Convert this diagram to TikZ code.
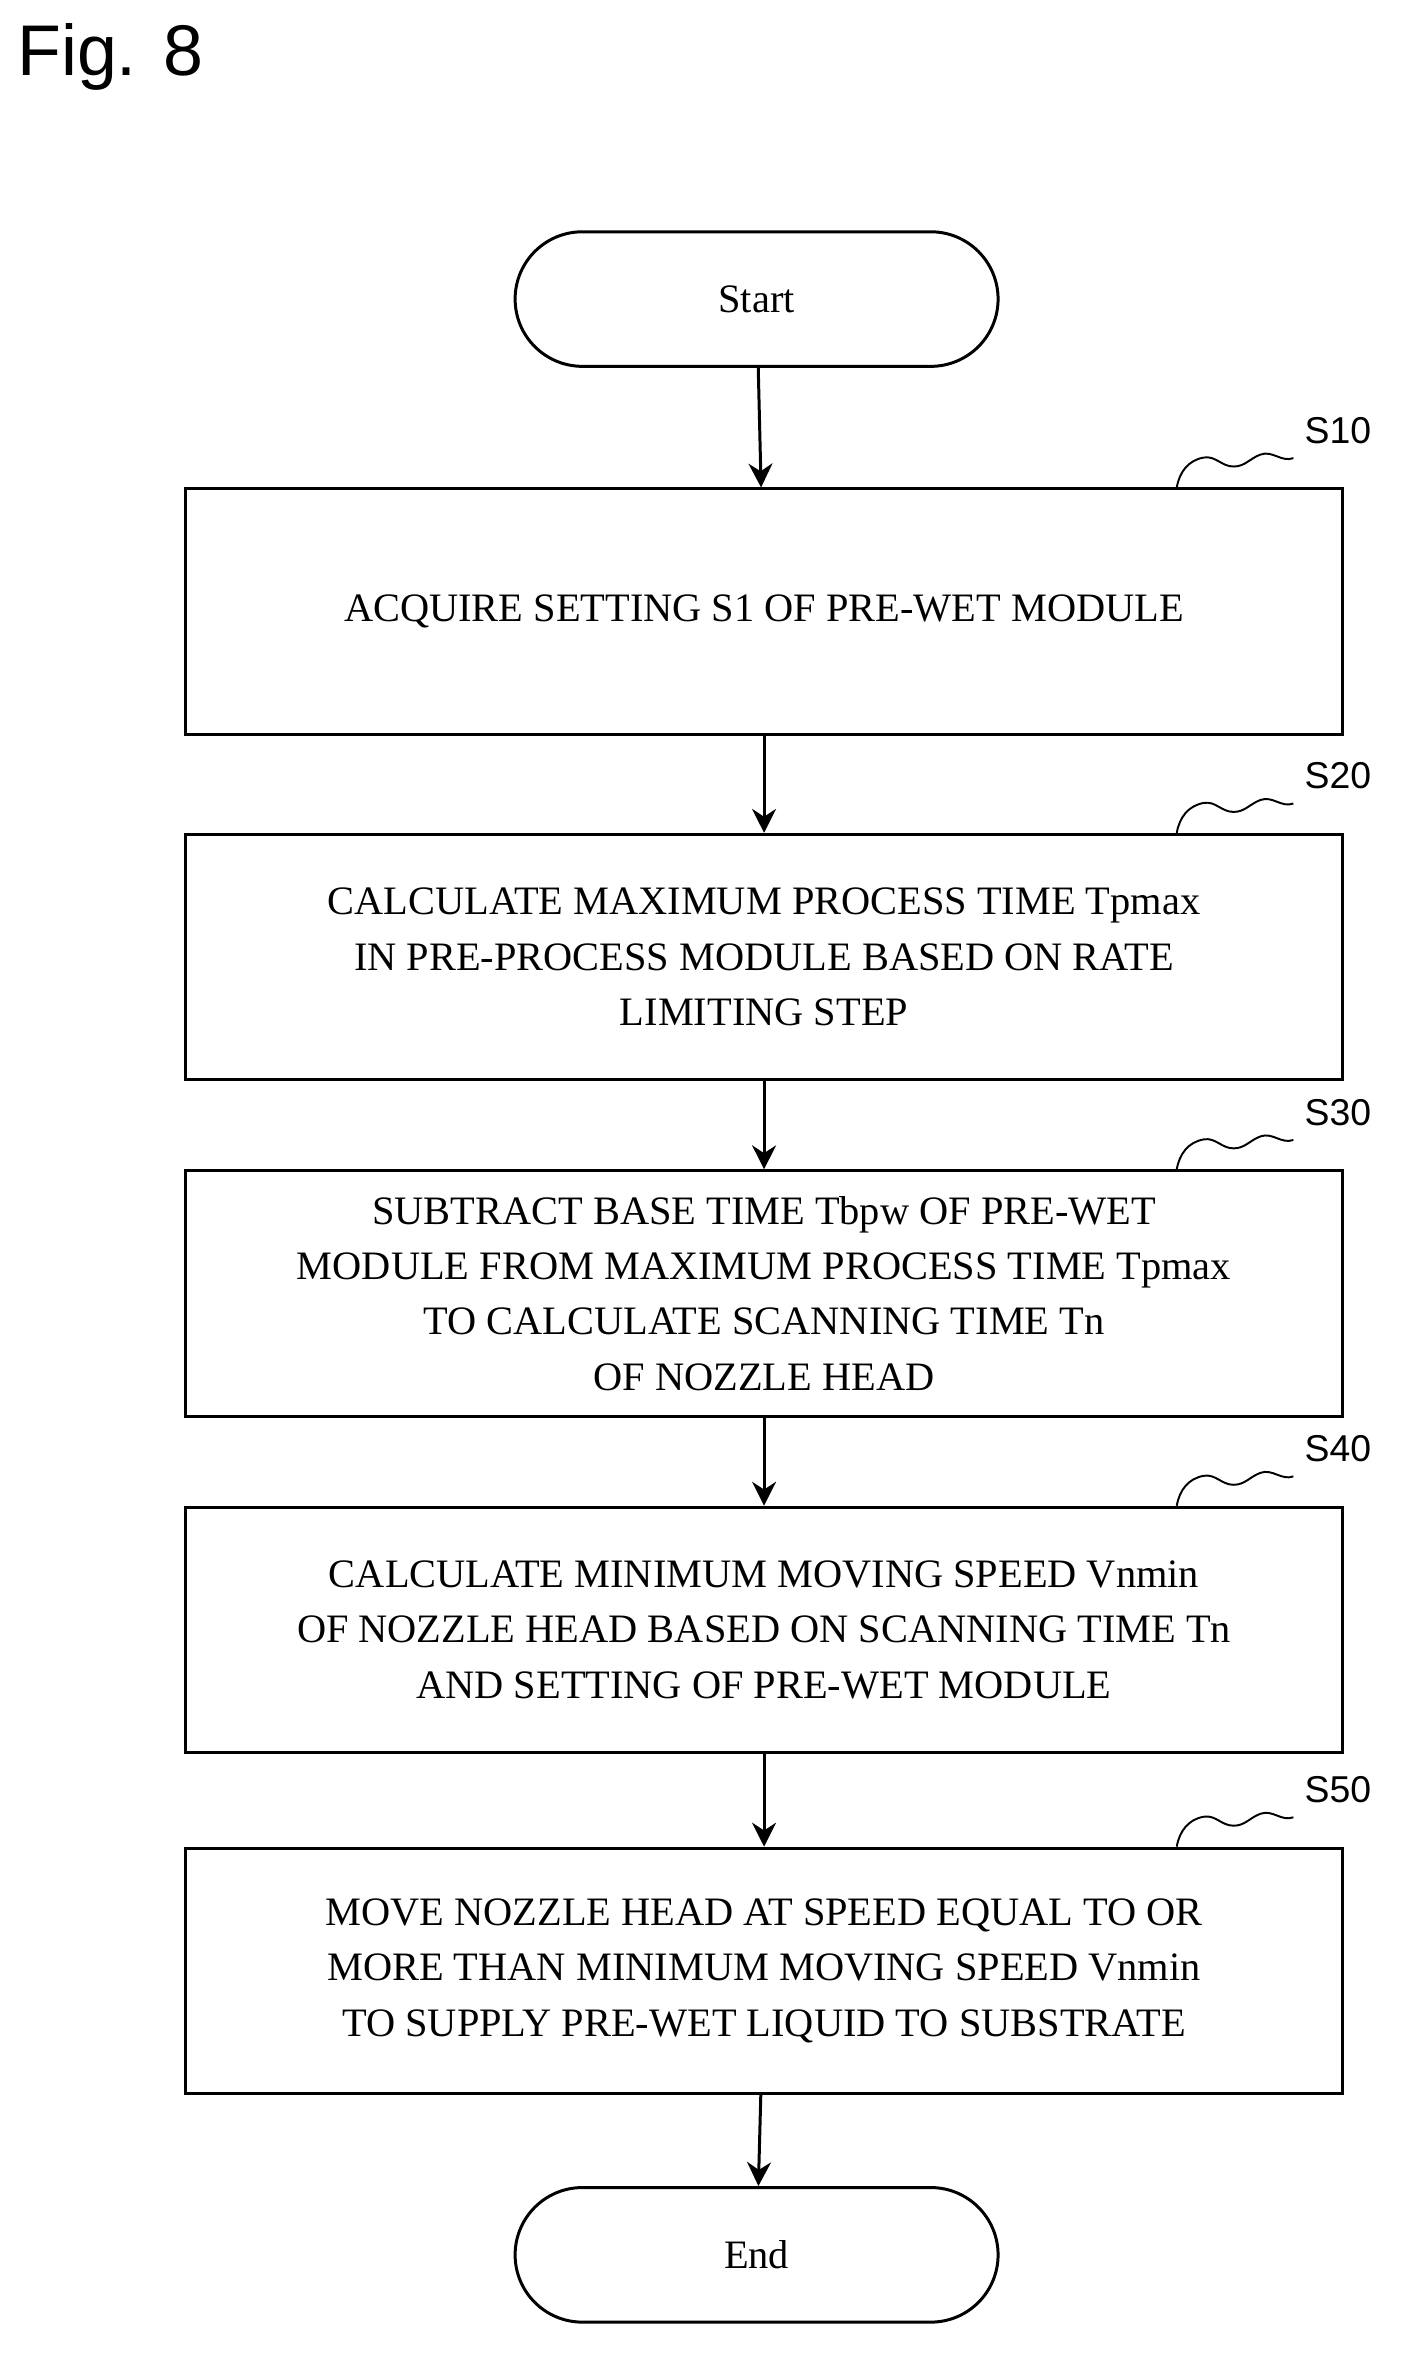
\documentclass[tikz,border=0pt]{standalone}
\usepackage{fontspec}
\setmainfont{Liberation Serif}
\newfontfamily\figfont{Liberation Sans}
\usetikzlibrary{arrows.meta}
\begin{document}
\begin{tikzpicture}[x=1pt,y=-1pt,
  box/.style={draw,line width=2pt,minimum width=774pt,minimum height=164pt,align=center,font=\fontsize{27}{37}\selectfont,anchor=north west,inner sep=0pt},
  term/.style={draw,line width=2pt,rounded corners=45pt,minimum width=323pt,minimum height=90pt,font=\fontsize{27}{30}\selectfont},
  arr/.style={line width=2pt,-{Stealth[length=16pt,width=16pt]}},
  lbl/.style={font=\figfont\fontsize{25}{30}\selectfont},
  sq/.style={line width=1.3pt}]
\useasboundingbox (0,0) rectangle (937,1575);
\node[font=\figfont\fontsize{48}{54}\selectfont,anchor=west] (fig) at (8,38) {Fig. 8};
\node[term] (start) at (506,200) {Start};
\node[box] (s10) at (123,326) {ACQUIRE SETTING S1 OF PRE-WET MODULE};
\node[box] (s20) at (123,557) {CALCULATE MAXIMUM PROCESS TIME Tpmax\\IN PRE-PROCESS MODULE BASED ON RATE\\LIMITING STEP};
\node[box] (s30) at (123,782) {SUBTRACT BASE TIME Tbpw OF PRE-WET\\MODULE FROM MAXIMUM PROCESS TIME Tpmax\\TO CALCULATE SCANNING TIME Tn\\OF NOZZLE HEAD};
\node[box] (s40) at (123,1007) {CALCULATE MINIMUM MOVING SPEED Vnmin\\OF NOZZLE HEAD BASED ON SCANNING TIME Tn\\AND SETTING OF PRE-WET MODULE};
\node[box] (s50) at (123,1235) {MOVE NOZZLE HEAD AT SPEED EQUAL TO OR\\MORE THAN MINIMUM MOVING SPEED Vnmin\\TO SUPPLY PRE-WET LIQUID TO SUBSTRATE};
\node[term] (end) at (506,1508) {End};
\draw[arr] (start) -- (s10);
\draw[arr] (s10) -- (s20);
\draw[arr] (s20) -- (s30);
\draw[arr] (s30) -- (s40);
\draw[arr] (s40) -- (s50);
\draw[arr] (s50) -- (end);
\foreach \b/\t/\n in {s10/S10/a,s20/S20/b,s30/S30/c,s40/S40/d,s50/S50/e}{
  \node[lbl,anchor=west] (l\n) at ([shift={(-30pt,38pt)}]\b.north east) {\t};
  \coordinate (q\n) at ([shift={(-112pt,0pt)}]\b.north east);
  \draw[sq] (q\n) to[out=80,in=190] ++(18,-20) to[out=10,in=180] ++(20,6)
    to[out=0,in=200] ++(18,-8) to[out=20,in=200] ([shift={(-4pt,-6pt)}]l\n.south west);
}
\end{tikzpicture}
\end{document}
